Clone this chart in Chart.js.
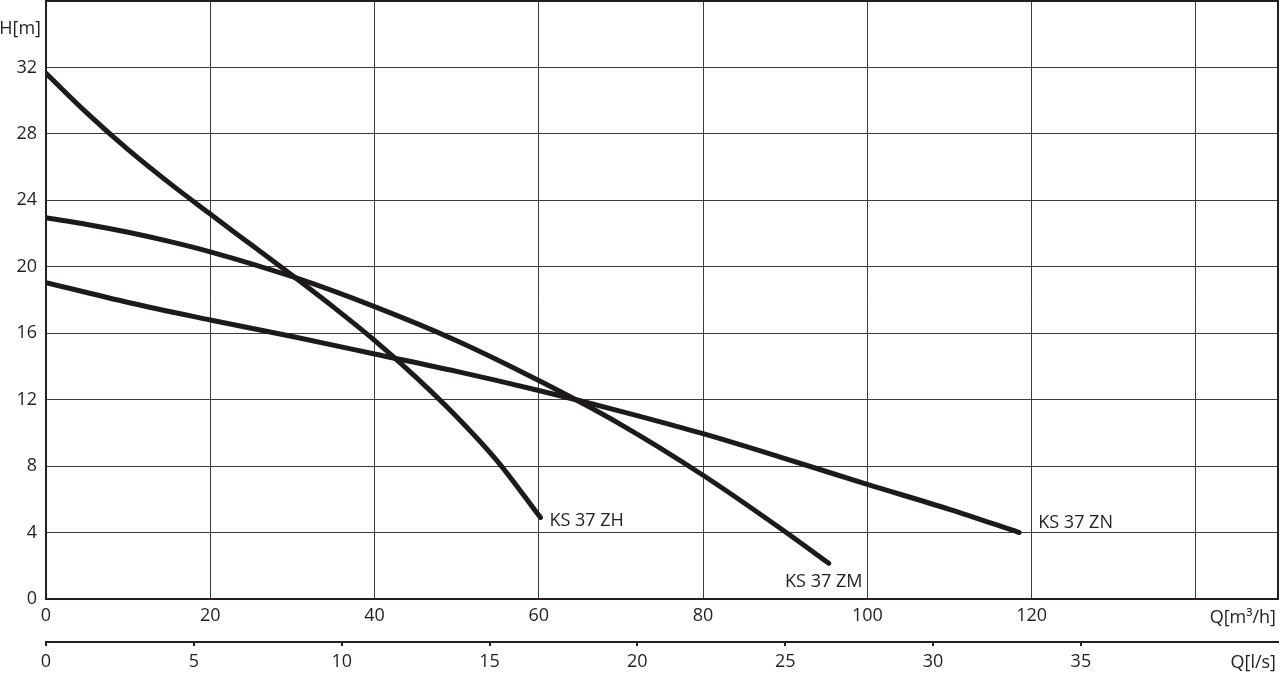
<!DOCTYPE html>
<html>
<head>
<meta charset="utf-8">
<script src="https://cdn.jsdelivr.net/npm/chart.js@4.4.0/dist/chart.umd.min.js"></script>
<style>
  body { margin: 0; background: #fff; }
  #wrap { width: 1280px; height: 674px; }
</style>
</head>
<body>
<div id="wrap"><canvas id="pumpChart" width="1280" height="674"></canvas></div>
<script>
// Q in m³/h, H in m
const qZH = [0, 5, 10, 15, 20, 25, 30, 35, 40, 45, 50, 55, 60.2];
const hZH = [31.65, 29.25, 27.05, 25.05, 23.17, 21.32, 19.47, 17.57, 15.57, 13.37, 10.97, 8.27, 4.9];

const qZM = [0, 5, 10, 15, 20, 30, 40, 50, 60, 70, 80, 90, 95.3];
const hZM = [22.95, 22.55, 22.08, 21.53, 20.9, 19.4, 17.6, 15.55, 13.15, 10.5, 7.45, 4.05, 2.15];

const qZN = [0, 10, 20, 30, 40, 50, 60, 70, 80, 90, 100, 110, 118.5];
const hZN = [19.05, 17.85, 16.8, 15.8, 14.75, 13.7, 12.55, 11.3, 9.95, 8.45, 6.9, 5.4, 4.0];

const curveNames = ['KS 37 ZH', 'KS 37 ZM', 'KS 37 ZN'];

const Q_MAX = 150;      // m³/h
const H_MAX = 36;       // m
const LS_PER_M3H = 1 / 3.6;

const ink = '#231f20';
const gridInk = '#3c3c3c';
const fontFam = '"Open Sans", "DejaVu Sans", sans-serif';
const fontSize = 18;

const toPoints = (qs, hs) => qs.map((q, i) => ({ x: q, y: hs[i] }));

// where each name sits relative to the end of its curve (px)
const labelOffsets = [
  { dx: 9, dy: 8, align: 'left' },
  { dx: -5, dy: 24, align: 'center' },
  { dx: 19, dy: -5, align: 'left' }
];

// kill the half-label padding chart.js adds round the plot
const noPad = (s) => { s.paddingTop = 0; s.paddingBottom = 0; s.paddingLeft = 0; s.paddingRight = 0; };

const sheetPlugin = {
  id: 'sheet',
  afterDatasetsDraw(chart) {
    const { ctx, chartArea: a, scales: { x, y } } = chart;
    ctx.save();
    ctx.font = fontSize + 'px ' + fontFam;
    ctx.fillStyle = ink;
    ctx.textBaseline = 'alphabetic';

    curveNames.forEach((name, i) => {
      const pts = chart.data.datasets[i].data;
      const last = pts[pts.length - 1];
      const o = labelOffsets[i];
      ctx.textAlign = o.align;
      ctx.fillText(name, x.getPixelForValue(last.x) + o.dx, y.getPixelForValue(last.y) + o.dy);
    });

    // axis names
    ctx.textAlign = 'right';
    ctx.fillText('H[m]', a.left - 5, y.getPixelForValue(34.5) + 8);
    ctx.fillText('Q[m³/h]', a.right - 2, a.bottom + 24);
    ctx.fillText('Q[l/s]', a.right - 2, a.bottom + 69);

    // frame
    ctx.strokeStyle = ink;
    ctx.lineWidth = 2;
    ctx.strokeRect(a.left, a.top, a.right - a.left, a.bottom - a.top);
    ctx.restore();
  }
};

const lineStyle = {
  borderColor: '#1d1a1b',
  borderWidth: 5,
  borderCapStyle: 'round',
  borderJoinStyle: 'round',
  pointRadius: 0,
  cubicInterpolationMode: 'monotone',
  fill: false,
  xAxisID: 'x'
};

new Chart(document.getElementById('pumpChart'), {
  type: 'line',
  data: {
    datasets: [
      { label: curveNames[0], data: toPoints(qZH, hZH), ...lineStyle },
      { label: curveNames[1], data: toPoints(qZM, hZM), ...lineStyle },
      { label: curveNames[2], data: toPoints(qZN, hZN), ...lineStyle }
    ]
  },
  options: {
    responsive: false,
    animation: false,
    devicePixelRatio: 1,
    layout: { padding: { top: 1, right: 2, bottom: 0, left: 0 } },
    plugins: { legend: { display: false }, tooltip: { enabled: false } },
    scales: {
      x: {
        type: 'linear',
        position: 'bottom',
        min: 0,
        max: Q_MAX,
        afterFit(s) { s.height = 43; noPad(s); },
        grid: { color: gridInk, lineWidth: 1, drawTicks: false },
        border: { display: true, color: ink, width: 2 },
        ticks: {
          stepSize: 20,
          autoSkip: false,
          maxRotation: 0,
          padding: 6,
          color: ink,
          font: { family: fontFam, size: fontSize },
          callback: (v) => (v >= Q_MAX ? null : (v < 140 ? v : ''))
        }
      },
      x2: {
        type: 'linear',
        position: 'bottom',
        min: 0,
        max: Q_MAX * LS_PER_M3H,
        afterFit(s) { s.height = 32; noPad(s); },
        grid: { drawOnChartArea: false, drawTicks: true, tickLength: 4, color: ink, lineWidth: 2 },
        border: { display: true, color: ink, width: 2 },
        ticks: {
          stepSize: 5,
          autoSkip: false,
          maxRotation: 0,
          padding: 5,
          color: ink,
          font: { family: fontFam, size: fontSize },
          callback: (v) => (v > 40 ? null : (v < 40 ? v : ''))
        }
      },
      y: {
        type: 'linear',
        min: 0,
        max: H_MAX,
        afterFit(s) { s.width = 46; noPad(s); },
        grid: { color: gridInk, lineWidth: 1, drawTicks: false },
        border: { display: false },
        ticks: {
          stepSize: 4,
          padding: 9,
          color: ink,
          font: { family: fontFam, size: fontSize },
          callback: (v) => (v >= H_MAX ? null : v)
        }
      }
    }
  },
  plugins: [sheetPlugin]
});
</script>
</body>
</html>
